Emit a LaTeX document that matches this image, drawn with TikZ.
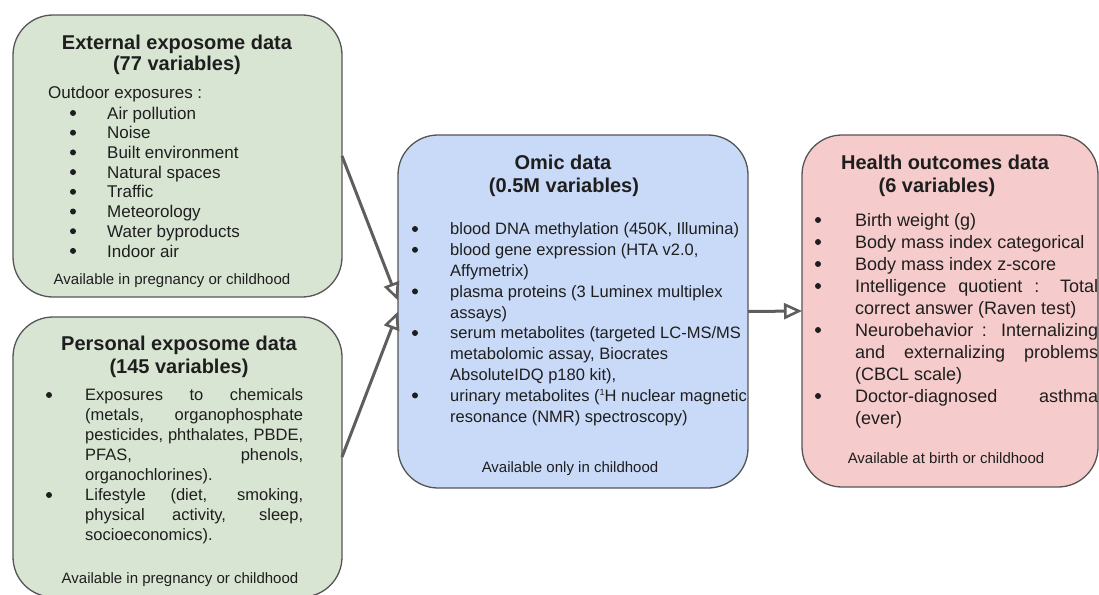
\documentclass[tikz,border=0pt]{standalone}
\usepackage{fontspec}
\setmainfont{Liberation Sans}
\usetikzlibrary{arrows.meta,calc}
\definecolor{grn}{HTML}{D9E5D3}
\definecolor{blu}{HTML}{C9DAF8}
\definecolor{rd}{HTML}{F6CBCB}
\definecolor{edgec}{HTML}{555555}
\definecolor{ink}{HTML}{1E1E1E}
\definecolor{arrc}{HTML}{5E5E5E}
\begin{document}
\begin{tikzpicture}[x=1pt,y=-1pt,
  box/.style={draw=edgec, line width=1.3pt, rounded corners=40pt, inner sep=0pt, outer sep=0pt},
  ttl/.style={anchor=base, yshift=-7.2pt, inner sep=0pt, text=ink, font=\fontsize{20}{23}\selectfont\bfseries},
  avl/.style={anchor=base, yshift=-5.4pt, inner sep=0pt, text=ink, font=\fontsize{15}{18}\selectfont},
  tA/.style={anchor=base west, yshift=-6.1pt, inner sep=0pt, text=ink, font=\fontsize{17}{20}\selectfont},
  tB/.style={anchor=base west, yshift=-5.9pt, inner sep=0pt, text=ink, font=\fontsize{16.5}{20}\selectfont},
  tH/.style={anchor=base west, yshift=-6.5pt, inner sep=0pt, text=ink, font=\fontsize{18}{22}\selectfont},
  blt/.style={fill=ink},
  link/.style={draw=arrc, line width=3pt, -{Triangle[open, length=18pt, width=16pt, line width=2.6pt]}}
]
\useasboundingbox (0,0) rectangle (1099,594);

% boxes
\node[box, fill=grn, minimum width=329pt, minimum height=282pt] (ext) at (177.5,156) {};
\node[box, fill=grn, minimum width=329pt, minimum height=280pt] (per) at (177.5,457) {};
\node[box, fill=blu, minimum width=350pt, minimum height=353pt] (omic) at (573,311.5) {};
\node[box, fill=rd, minimum width=296pt, minimum height=352pt] (hlth) at (950,311) {};

% external exposome
\node[ttl] (e0) at (177,42) {External exposome data};
\node[ttl] (e1) at (177,63) {(77 variables)};
\node[tA] (e2) at (48,92) {Outdoor exposures :};
\foreach \t [count=\i from 0] in {Air pollution, Noise, Built environment, Natural spaces, Traffic, Meteorology, Water byproducts, Indoor air}{
  \fill[blt] (73,113+19.7*\i) circle (3pt);
  \node[tA] (ei\i) at (107,113+19.7*\i) {\t};
}
\node[avl] (e3) at (172,279) {Available in pregnancy or childhood};

% personal exposome
\node[ttl] (p0) at (179,343) {Personal exposome data};
\node[ttl] (p1) at (179,366) {(145 variables)};
\fill[blt] (49,395) circle (3pt);
\fill[blt] (49,495) circle (3pt);
\node[tB] (p2) at (85,395) {\makebox[218pt][s]{Exposures to chemicals}};
\node[tB] (p3) at (85,415) {\makebox[218pt][s]{(metals, organophosphate}};
\node[tB] (p4) at (85,435) {\makebox[218pt][s]{pesticides, phthalates, PBDE,}};
\node[tB] (p5) at (85,455) {\makebox[218pt][s]{PFAS, phenols,}};
\node[tB] (p6) at (85,475) {organochlorines).};
\node[tB] (p7) at (85,495) {\makebox[218pt][s]{Lifestyle (diet, smoking,}};
\node[tB] (p8) at (85,515) {\makebox[218pt][s]{physical activity, sleep,}};
\node[tB] (p9) at (85,535) {socioeconomics).};
\node[avl] (p10) at (180,578) {Available in pregnancy or childhood};

% omic
\node[ttl] (o0) at (563,162) {Omic data};
\node[ttl] (o1) at (564,185) {(0.5M variables)};
\foreach \k in {0,1,3,5,8}{\fill[blt] (415,229+20.8*\k) circle (3pt);}
\node[tB] (o2) at (450,229) {blood DNA methylation (450K, Illumina)};
\node[tB] (o3) at (450,249.8) {blood gene expression (HTA v2.0,};
\node[tB] (o4) at (450,270.6) {Affymetrix)};
\node[tB] (o5) at (450,291.4) {plasma proteins (3 Luminex multiplex};
\node[tB] (o6) at (450,312.2) {assays)};
\node[tB] (o7) at (450,333) {serum metabolites (targeted LC-MS/MS};
\node[tB] (o8) at (450,353.8) {metabolomic assay, Biocrates};
\node[tB] (o9) at (450,374.6) {AbsoluteIDQ p180 kit),};
\node[tB] (o10) at (450,395.4) {urinary metabolites (\raisebox{5.5pt}{\fontsize{9}{9}\selectfont 1}H nuclear magnetic};
\node[tB] (o11) at (450,416.2) {resonance (NMR) spectroscopy)};
\node[avl] (o12) at (570,467) {Available only in childhood};

% health outcomes
\node[ttl] (h0) at (945,162) {Health outcomes data};
\node[ttl] (h1) at (937,185) {(6 variables)};
\foreach \k in {0,1,2,3,5,8}{\fill[blt] (818,220+22*\k) circle (3pt);}
\node[tH] (h2) at (855,220) {Birth weight (g)};
\node[tH] (h3) at (855,242) {Body mass index categorical};
\node[tH] (h4) at (855,264) {Body mass index z-score};
\node[tH] (h5) at (855,286) {\makebox[243pt][s]{Intelligence quotient : Total}};
\node[tH] (h6) at (855,308) {correct answer (Raven test)};
\node[tH] (h7) at (855,330) {\makebox[243pt][s]{Neurobehavior : Internalizing}};
\node[tH] (h8) at (855,352) {\makebox[243pt][s]{and externalizing problems}};
\node[tH] (h9) at (855,374) {(CBCL scale)};
\node[tH] (h10) at (855,396) {\makebox[243pt][s]{Doctor-diagnosed asthma}};
\node[tH] (h11) at (855,418) {(ever)};
\node[avl] (h12) at (946,458) {Available at birth or childhood};

% connectors
\draw[link] (ext.east) -- ($(omic.west)+(0,-11)$);
\draw[link] (per.east) -- (omic.west);
\draw[link] (omic.east) -- (hlth.west);
\end{tikzpicture}
\end{document}
